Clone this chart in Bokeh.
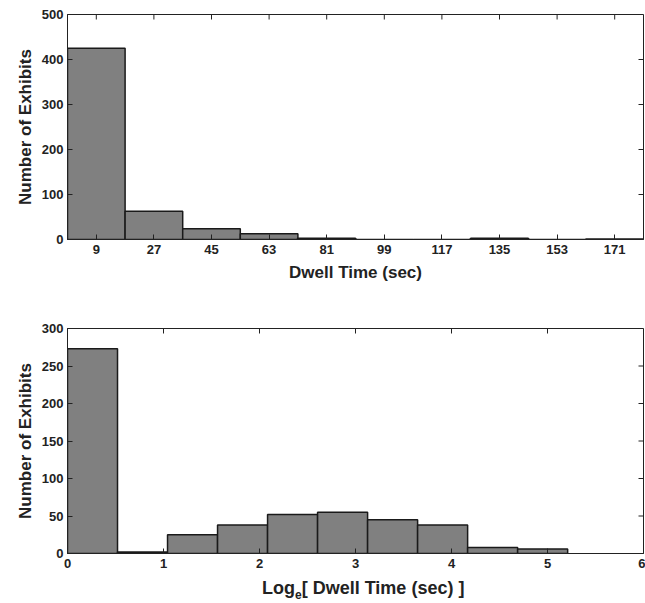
import math
from bokeh.plotting import figure
from bokeh.models import FixedTicker, Range1d, Div
from bokeh.layouts import column
from bokeh.embed import file_html
from bokeh.resources import INLINE

# ---- data ----
top_centers = [9, 27, 45, 63, 81, 99, 117, 135, 153, 171]
top_counts = [425, 63, 24, 13, 3, 0, 0, 3, 0, 1]
top_yticks = [0, 100, 200, 300, 400, 500]

log_bin_width = 0.521
log_counts = [273, 2, 25, 38, 52, 55, 45, 38, 8, 6]
log_xticks = [0, 1, 2, 3, 4, 5, 6]
log_yticks = [0, 50, 100, 150, 200, 250, 300]

FONT = "Liberation Sans"
INK = "#222222"
BAR_FILL = "#808080"
BAR_LINE = "#1a1a1a"
TICK = 5


def style_axis(ax):
    ax.major_tick_in = TICK
    ax.major_tick_out = 0
    ax.minor_tick_line_color = None
    ax.axis_line_color = INK
    ax.major_tick_line_color = INK
    ax.major_label_text_font = FONT
    ax.major_label_text_font_style = "bold"
    ax.major_label_text_color = INK
    ax.major_label_text_font_size = "13px"
    ax.axis_label_text_font = FONT
    ax.axis_label_text_font_style = "bold"
    ax.axis_label_text_font_size = "17px"
    ax.axis_label_text_color = INK


def make_fig(height, border_top, border_bottom, xr, yr, xticks, yticks):
    p = figure(width=645, height=height, output_backend="svg", toolbar_location=None,
               x_range=Range1d(*xr), y_range=Range1d(*yr),
               min_border_left=67, min_border_right=2,
               min_border_top=border_top, min_border_bottom=border_bottom)
    p.xgrid.grid_line_color = None
    p.ygrid.grid_line_color = None
    p.outline_line_color = INK
    p.xaxis.ticker = FixedTicker(ticks=xticks)
    p.yaxis.ticker = FixedTicker(ticks=yticks)
    for ax in p.xaxis + p.yaxis:
        style_axis(ax)
    p.xaxis.major_label_standoff = 5
    p.yaxis.major_label_standoff = 4
    # mirrored inward ticks on the top and right edges of the box
    p.ray(x=xticks, y=yr[1], length=TICK, length_units="screen", angle=-math.pi / 2,
          line_color=INK, line_width=1)
    p.ray(x=xr[1], y=yticks, length=TICK, length_units="screen", angle=math.pi,
          line_color=INK, line_width=1)
    return p


# ---- top: dwell time histogram ----
w = top_centers[1] - top_centers[0]
p1 = make_fig(290, 14, 51, (0, 180), (0, 500), top_centers, top_yticks)
p1.quad(left=[c - w / 2 for c in top_centers], right=[c + w / 2 for c in top_centers],
        bottom=0, top=top_counts, fill_color=BAR_FILL, line_color=BAR_LINE, line_width=1.5)
p1.xaxis.axis_label = "Dwell Time (sec)"
p1.yaxis.axis_label = "Number of Exhibits"
p1.xaxis.axis_label_standoff = 6
p1.yaxis.axis_label_standoff = 4

# ---- bottom: log dwell time histogram ----
p2 = make_fig(282, 38, 19, (0, 6), (0, 300), log_xticks, log_yticks)
lefts = [i * log_bin_width for i in range(len(log_counts))]
p2.quad(left=lefts, right=[l + log_bin_width for l in lefts],
        bottom=0, top=log_counts, fill_color=BAR_FILL, line_color=BAR_LINE, line_width=1.5)
p2.yaxis.axis_label = "Number of Exhibits"
p2.yaxis.axis_label_standoff = 4

xlabel2 = Div(
    text="Log<sub style='font-size:12px;'>e</sub>[ Dwell Time (sec) ]",
    width=645, height=31,
    styles={"font-family": FONT, "font-weight": "bold", "font-size": "18px",
            "color": INK, "padding-left": "257px", "padding-top": "1px",
            "box-sizing": "border-box", "line-height": "normal"},
)

layout = column(p1, p2, xlabel2, spacing=0)
open("out.html", "w").write(file_html(layout, INLINE))
